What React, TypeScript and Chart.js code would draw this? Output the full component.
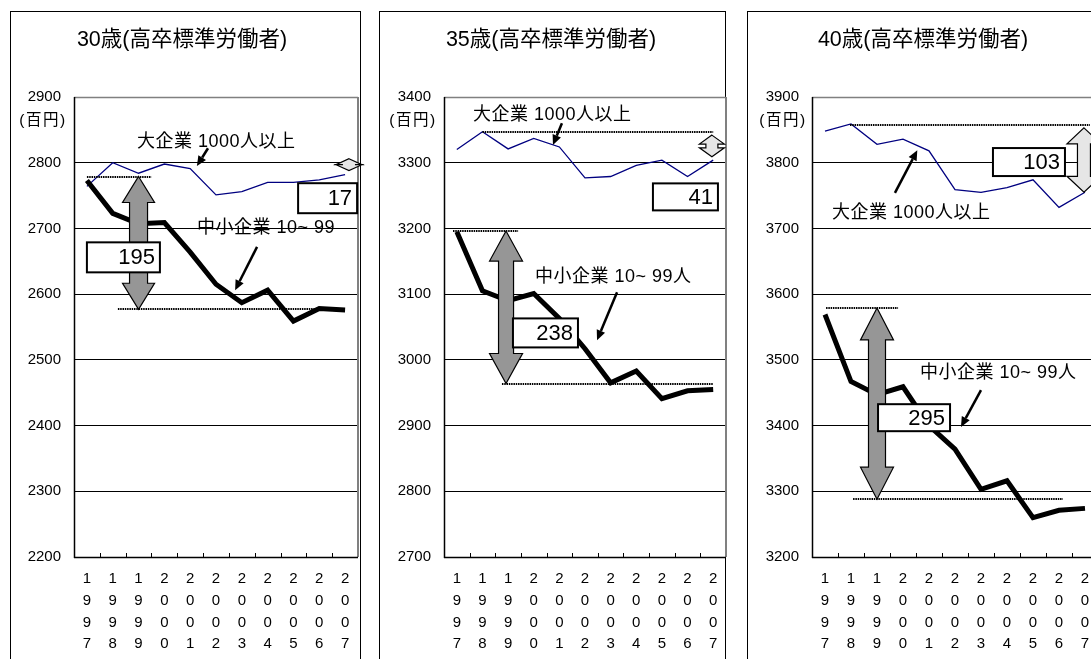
import React, { useEffect, useRef } from 'react';
import { Chart, registerables } from 'chart.js';

Chart.register(...registerables);

const FONT = "'Liberation Sans', 'Noto Sans CJK JP', sans-serif";

// ---------- data ----------
const years = ['1997', '1998', '1999', '2000', '2001', '2002', '2003', '2004', '2005', '2006', '2007'];

const large30 = [2764, 2800, 2784, 2798, 2791, 2751, 2756, 2770, 2770, 2774, 2782];
const small30 = [2773, 2723, 2707, 2709, 2664, 2615, 2587, 2606, 2559, 2578, 2576];

const large35 = [3320, 3347, 3321, 3337, 3324, 3277, 3279, 3296, 3304, 3279, 3304];
const small35 = [3195, 3105, 3090, 3101, 3063, 3017, 2965, 2983, 2941, 2953, 2955];

const large40 = [3848, 3859, 3828, 3836, 3818, 3759, 3755, 3762, 3774, 3732, 3755];
const small40 = [3569, 3467, 3447, 3459, 3400, 3364, 3303, 3316, 3260, 3271, 3274];

const range30 = [2200, 2900];
const range35 = [2700, 3400];
const range40 = [3200, 3900];

const titles = ['30歳(高卒標準労働者)', '35歳(高卒標準労働者)', '40歳(高卒標準労働者)'];
const unitLabel = '(百円)';
const largeLabel = '大企業 1000人以上';
const smallLabel30 = '中小企業 10~ 99';
const smallLabel = '中小企業 10~ 99人';
const smallGaps = ['195', '238', '295'];
const largeGaps = ['17', '41', '103'];

// ---------- panel layout / annotations (data coordinates: category index, value) ----------
type Panel = {
  offset: number;
  width: number;
  plotLeft: number;
  plotRight: number;
  boxL: number;
  boxR: number;
  titleX: number;
  title: string;
  range: number[];
  large: number[];
  small: number[];
  dotted: number[][]; // [value, i0, i1]
  big: { i: number; top: number; bot: number; headW: number; shaftW: number; headLen: number };
  light: { i: number; top: number; bot: number; headW: number; shaftW: number; headLen: number };
  boxes: { i: number; v: number; w: number; h: number; text: string }[];
  labels: { i: number; v: number; text: string }[];
  pointers: number[][]; // [i1, v1, i2, v2]
};

const panels: Panel[] = [
  {
    offset: 0, width: 370, plotLeft: 74, plotRight: 358, boxL: 10, boxR: 360, titleX: 182,
    title: titles[0], range: range30, large: large30, small: small30,
    dotted: [[2779, 0, 2.5], [2577, 1.2, 10]],
    big: { i: 2, top: 2779, bot: 2577, headW: 32, shaftW: 18, headLen: 26 },
    light: { i: 10.15, top: 2806, bot: 2788, headW: 26, shaftW: 12, headLen: 6 },
    boxes: [
      { i: 0, v: 2656, w: 73, h: 30, text: smallGaps[0] },
      { i: 8.18, v: 2746, w: 59, h: 30, text: largeGaps[0] },
    ],
    labels: [
      { i: 1.94, v: 2831, text: largeLabel },
      { i: 4.26, v: 2700, text: smallLabel30 },
    ],
    pointers: [[4.69, 2822, 4.26, 2795], [6.59, 2672, 5.74, 2606]],
  },
  {
    offset: 370, width: 370, plotLeft: 74, plotRight: 356, boxL: 9, boxR: 355, titleX: 181,
    title: titles[1], range: range35, large: large35, small: small35,
    dotted: [[3346, 1, 10], [3196, -0.15, 2.39], [2964, 1.76, 10]],
    big: { i: 1.92, top: 3196, bot: 2964, headW: 33, shaftW: 15, headLen: 30 },
    light: { i: 9.95, top: 3342, bot: 3309, headW: 25, shaftW: 12, headLen: 9 },
    boxes: [
      { i: 2.19, v: 3041, w: 65, h: 29, text: smallGaps[1] },
      { i: 7.65, v: 3248, w: 65, h: 27, text: largeGaps[1] },
    ],
    labels: [
      { i: 0.63, v: 3372, text: largeLabel },
      { i: 3.05, v: 3126, text: smallLabel },
    ],
    pointers: [[4.1, 3360, 3.75, 3327], [6.25, 3103, 5.47, 3030]],
  },
  {
    offset: 740, width: 370, plotLeft: 72, plotRight: 358, boxL: 7, boxR: 420, titleX: 183,
    title: titles[2], range: range40, large: large40, small: small40,
    dotted: [[3857, 0.96, 10.19], [3579, 0.04, 2.81], [3288, 1.08, 9.15]],
    big: { i: 2, top: 3579, bot: 3288, headW: 33, shaftW: 17, headLen: 32 },
    light: { i: 9.96, top: 3853, bot: 3755, headW: 34, shaftW: 13, headLen: 16 },
    boxes: [
      { i: 2.04, v: 3412, w: 72, h: 27, text: smallGaps[2] },
      { i: 6.46, v: 3801, w: 72, h: 28, text: largeGaps[2] },
    ],
    labels: [
      { i: 0.27, v: 3723, text: largeLabel },
      { i: 3.65, v: 3480, text: smallLabel },
    ],
    pointers: [[2.69, 3754, 3.55, 3819], [6.0, 3454, 5.23, 3398]],
  },
];

const H = 659;
const PLOT_TOP = 97;
const PLOT_BOTTOM = 557;

function doubleArrow(ctx: CanvasRenderingContext2D, cx: number, yT: number, yB: number,
  headW: number, shaftW: number, headLen: number, fill: string) {
  const hl = Math.min(headLen, (yB - yT) / 2);
  ctx.beginPath();
  ctx.moveTo(cx, yT);
  ctx.lineTo(cx + headW / 2, yT + hl);
  ctx.lineTo(cx + shaftW / 2, yT + hl);
  ctx.lineTo(cx + shaftW / 2, yB - hl);
  ctx.lineTo(cx + headW / 2, yB - hl);
  ctx.lineTo(cx, yB);
  ctx.lineTo(cx - headW / 2, yB - hl);
  ctx.lineTo(cx - shaftW / 2, yB - hl);
  ctx.lineTo(cx - shaftW / 2, yT + hl);
  ctx.lineTo(cx - headW / 2, yT + hl);
  ctx.closePath();
  ctx.fillStyle = fill;
  ctx.fill();
  ctx.strokeStyle = '#000';
  ctx.lineWidth = 1.2;
  ctx.stroke();
}

function makeDecor(p: Panel) {
  return {
    id: 'decor',
    beforeDraw(chart: any) {
      const ctx: CanvasRenderingContext2D = chart.ctx;
      ctx.save();
      ctx.fillStyle = '#fff';
      ctx.fillRect(0, 0, chart.width, chart.height);
      ctx.strokeStyle = '#000';
      ctx.lineWidth = 1;
      ctx.strokeRect(p.boxL + 0.5, 11.5, p.boxR - p.boxL, 700);
      ctx.fillStyle = '#000';
      ctx.textAlign = 'center';
      ctx.textBaseline = 'middle';
      ctx.font = `21.5px ${FONT}`;
      ctx.fillText(p.title, p.titleX, 40);
      ctx.font = `15.5px ${FONT}`;
      (ctx as any).letterSpacing = '1.5px';
      ctx.fillText(unitLabel, 43, 121);
      (ctx as any).letterSpacing = '0px';
      ctx.restore();
    },
    afterDraw(chart: any) {
      const ctx: CanvasRenderingContext2D = chart.ctx;
      const xs = chart.scales.x;
      const ys = chart.scales.y;
      const { left, right, top, bottom } = chart.chartArea;
      const X = (i: number) => xs.getPixelForValue(i);
      const Y = (v: number) => ys.getPixelForValue(v);
      ctx.save();

      // plot frame
      ctx.strokeStyle = '#808080';
      ctx.lineWidth = 1.5;
      ctx.beginPath();
      ctx.moveTo(left, top + 0.5);
      ctx.lineTo(right, top + 0.5);
      ctx.stroke();
      ctx.lineWidth = 2;
      ctx.beginPath();
      ctx.moveTo(right, top);
      ctx.lineTo(right, bottom);
      ctx.stroke();
      ctx.strokeStyle = '#000';
      ctx.lineWidth = 1.5;
      ctx.beginPath();
      ctx.moveTo(left + 0.5, top);
      ctx.lineTo(left + 0.5, bottom + 1);
      ctx.moveTo(left, bottom + 0.5);
      ctx.lineTo(right, bottom + 0.5);
      ctx.stroke();
      // inner tick marks
      ctx.lineWidth = 1;
      ctx.beginPath();
      const n = years.length;
      for (let k = 1; k < n; k++) {
        const x = Math.round(left + (k * (right - left)) / n) + 0.5;
        ctx.moveTo(x, bottom);
        ctx.lineTo(x, bottom - 4);
      }
      ctx.stroke();

      // dotted reference lines
      ctx.strokeStyle = '#000';
      ctx.lineWidth = 2;
      ctx.setLineDash([1.5, 0.8]);
      for (const [v, i0, i1] of p.dotted) {
        const y = Math.round(Y(v));
        ctx.beginPath();
        ctx.moveTo(X(i0), y);
        ctx.lineTo(X(i1), y);
        ctx.stroke();
      }
      ctx.setLineDash([]);

      // big gray double arrow
      const b = p.big;
      doubleArrow(ctx, X(b.i), Y(b.top), Y(b.bot), b.headW, b.shaftW, b.headLen, '#969696');
      // light double arrow
      const l = p.light;
      doubleArrow(ctx, X(l.i), Y(l.top), Y(l.bot), l.headW, l.shaftW, l.headLen, '#e6e6e6');

      // value boxes
      for (const bx of p.boxes) {
        const x0 = X(bx.i);
        const y0 = Y(bx.v) - bx.h / 2;
        ctx.fillStyle = '#fff';
        ctx.fillRect(x0, y0, bx.w, bx.h);
        ctx.strokeStyle = '#000';
        ctx.lineWidth = 2;
        ctx.strokeRect(x0, y0, bx.w, bx.h);
        ctx.fillStyle = '#000';
        ctx.font = `22px ${FONT}`;
        ctx.textAlign = 'right';
        ctx.textBaseline = 'middle';
        ctx.fillText(bx.text, x0 + bx.w - 5, y0 + bx.h / 2 + 1);
      }

      // series labels
      ctx.fillStyle = '#000';
      ctx.font = `18px ${FONT}`;
      ctx.textAlign = 'left';
      ctx.textBaseline = 'middle';
      (ctx as any).letterSpacing = '0.5px';
      for (const lb of p.labels) {
        ctx.fillText(lb.text, X(lb.i), Y(lb.v));
      }
      (ctx as any).letterSpacing = '0px';

      // pointer arrows
      for (const [i1, v1, i2, v2] of p.pointers) {
        const x1 = X(i1), y1 = Y(v1), x2 = X(i2), y2 = Y(v2);
        const ang = Math.atan2(y2 - y1, x2 - x1);
        const hl = 10, hw = 4.5;
        const bx = x2 - hl * Math.cos(ang), by = y2 - hl * Math.sin(ang);
        ctx.strokeStyle = '#000';
        ctx.lineWidth = 2.5;
        ctx.beginPath();
        ctx.moveTo(x1, y1);
        ctx.lineTo(bx, by);
        ctx.stroke();
        ctx.fillStyle = '#000';
        ctx.beginPath();
        ctx.moveTo(x2, y2);
        ctx.lineTo(bx + hw * Math.sin(ang), by - hw * Math.cos(ang));
        ctx.lineTo(bx - hw * Math.sin(ang), by + hw * Math.cos(ang));
        ctx.closePath();
        ctx.fill();
      }
      ctx.restore();
    },
  };
}

function PanelChart({ p }: { p: Panel }) {
  const ref = useRef<HTMLCanvasElement | null>(null);
  useEffect(() => {
    if (!ref.current) return;
    const [ymin, ymax] = p.range;
    const chart = new Chart(ref.current, {
      type: 'line',
      data: {
        labels: years,
        datasets: [
          {
            label: 'small',
            data: p.small,
            borderColor: '#000',
            borderWidth: 5,
            pointRadius: 0,
            borderJoinStyle: 'miter',
            fill: false,
          },
          {
            label: 'large',
            data: p.large,
            borderColor: '#000080',
            borderWidth: 1.3,
            pointRadius: 0,
            fill: false,
          },
        ],
      },
      options: {
        animation: false,
        responsive: false,
        devicePixelRatio: 1,
        events: [],
        layout: { padding: { left: 0, top: PLOT_TOP, right: p.width - p.plotRight, bottom: 0 } },
        plugins: { legend: { display: false }, tooltip: { enabled: false }, title: { display: false } },
        scales: {
          x: {
            type: 'category',
            offset: true,
            grid: { display: false, drawTicks: false },
            border: { display: false },
            afterFit: (s: any) => { s.height = H - PLOT_BOTTOM; },
            ticks: {
              autoSkip: false,
              maxRotation: 0,
              minRotation: 0,
              padding: 11,
              color: '#000',
              font: { family: FONT, size: 15, lineHeight: 1.45 },
              callback: (_v: any, i: number) => years[i].split(''),
            },
          },
          y: {
            min: ymin,
            max: ymax,
            grid: {
              drawTicks: false,
              color: (c: any) => (c.tick && c.tick.value === ymax ? 'rgba(0,0,0,0)' : '#000'),
              lineWidth: 1,
            },
            border: { display: false },
            afterFit: (s: any) => { s.width = p.plotLeft; },
            ticks: {
              stepSize: 100,
              padding: 13,
              color: '#000',
              font: { family: FONT, size: 15 },
              callback: (v: any) => String(v),
            },
          },
        },
      },
      plugins: [makeDecor(p)],
    } as any);
    return () => chart.destroy();
  }, [p]);
  return (
    <canvas
      ref={ref}
      width={p.width}
      height={H}
      style={{ position: 'absolute', left: p.offset, top: 0, width: p.width, height: H }}
    />
  );
}

export default function App() {
  return (
    <div
      style={{
        position: 'fixed', left: 0, top: 0, width: 1091, height: 659,
        overflow: 'hidden', background: '#fff',
      }}
    >
      {panels.map((p, k) => (
        <PanelChart key={k} p={p} />
      ))}
    </div>
  );
}
